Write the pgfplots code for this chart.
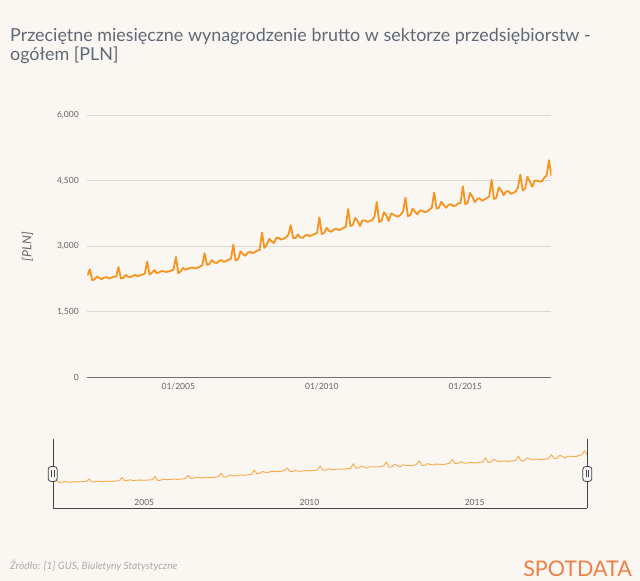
\documentclass[border=0pt]{standalone}
\usepackage{fontspec}
\setmainfont{Lato}
\usepackage{pgfplots}
\usepackage{pgfplotstable}
\pgfplotsset{compat=1.18}
\definecolor{bg}{HTML}{FAF6F1}
\definecolor{titlec}{HTML}{606A76}
\definecolor{linec}{HTML}{F7931E}
\definecolor{navline}{HTML}{FBA84A}
\definecolor{gridc}{HTML}{D9D7D3}
\definecolor{axisc}{HTML}{707070}
\definecolor{labc}{HTML}{666666}
\definecolor{srcc}{HTML}{ABABAB}
\definecolor{logoc}{HTML}{F07E46}
\definecolor{navaxis}{HTML}{444444}
\definecolor{handlefill}{HTML}{F4F4F4}

\pgfplotstableread{
year month value
2001 11 2320
2001 12 2470
2002 1 2220
2002 2 2240
2002 3 2300
2002 4 2270
2002 5 2240
2002 6 2280
2002 7 2290
2002 8 2260
2002 9 2280
2002 10 2300
2002 11 2300
2002 12 2520
2003 1 2260
2003 2 2270
2003 3 2340
2003 4 2300
2003 5 2290
2003 6 2320
2003 7 2340
2003 8 2310
2003 9 2330
2003 10 2350
2003 11 2370
2003 12 2650
2004 1 2350
2004 2 2390
2004 3 2450
2004 4 2380
2004 5 2400
2004 6 2430
2004 7 2420
2004 8 2410
2004 9 2420
2004 10 2440
2004 11 2460
2004 12 2750
2005 1 2380
2005 2 2420
2005 3 2500
2005 4 2460
2005 5 2480
2005 6 2500
2005 7 2510
2005 8 2490
2005 9 2500
2005 10 2530
2005 11 2560
2005 12 2840
2006 1 2570
2006 2 2590
2006 3 2680
2006 4 2630
2006 5 2610
2006 6 2660
2006 7 2680
2006 8 2640
2006 9 2660
2006 10 2690
2006 11 2710
2006 12 3030
2007 1 2670
2007 2 2700
2007 3 2880
2007 4 2820
2007 5 2780
2007 6 2850
2007 7 2870
2007 8 2840
2007 9 2860
2007 10 2900
2007 11 2910
2007 12 3310
2008 1 2960
2008 2 3030
2008 3 3170
2008 4 3110
2008 5 3070
2008 6 3190
2008 7 3190
2008 8 3150
2008 9 3170
2008 10 3200
2008 11 3260
2008 12 3480
2009 1 3190
2009 2 3180
2009 3 3270
2009 4 3200
2009 5 3190
2009 6 3240
2009 7 3260
2009 8 3230
2009 9 3250
2009 10 3280
2009 11 3300
2009 12 3660
2010 1 3280
2010 2 3300
2010 3 3420
2010 4 3350
2010 5 3330
2010 6 3380
2010 7 3400
2010 8 3370
2010 9 3380
2010 10 3420
2010 11 3440
2010 12 3850
2011 1 3460
2011 2 3490
2011 3 3650
2011 4 3570
2011 5 3460
2011 6 3590
2011 7 3590
2011 8 3560
2011 9 3570
2011 10 3600
2011 11 3670
2011 12 4010
2012 1 3550
2012 2 3580
2012 3 3780
2012 4 3700
2012 5 3580
2012 6 3750
2012 7 3720
2012 8 3690
2012 9 3680
2012 10 3720
2012 11 3800
2012 12 4110
2013 1 3690
2013 2 3710
2013 3 3860
2013 4 3790
2013 5 3730
2013 6 3820
2013 7 3810
2013 8 3780
2013 9 3790
2013 10 3840
2013 11 3880
2013 12 4230
2014 1 3860
2014 2 3880
2014 3 4020
2014 4 3940
2014 5 3880
2014 6 3950
2014 7 3960
2014 8 3920
2014 9 3930
2014 10 3980
2014 11 3990
2014 12 4370
2015 1 3960
2015 2 4000
2015 3 4220
2015 4 4130
2015 5 4010
2015 6 4080
2015 7 4100
2015 8 4040
2015 9 4070
2015 10 4100
2015 11 4140
2015 12 4520
2016 1 4080
2016 2 4110
2016 3 4350
2016 4 4280
2016 5 4170
2016 6 4250
2016 7 4260
2016 8 4200
2016 9 4220
2016 10 4250
2016 11 4340
2016 12 4640
2017 1 4280
2017 2 4320
2017 3 4590
2017 4 4480
2017 5 4360
2017 6 4500
2017 7 4500
2017 8 4480
2017 9 4480
2017 10 4570
2017 11 4620
2017 12 4970
2018 1 4600
}\wages

\begin{document}
\begin{tikzpicture}[x=1pt,y=1pt]
\path[use as bounding box, fill=bg] (0pt,0pt) rectangle (640pt,581pt);

% title
\node[anchor=north west, align=left, text=titlec, inner sep=0pt,
      font=\fontsize{17.9}{19.5}\selectfont] at (10pt,553pt)
  {Przeciętne miesięczne wynagrodzenie brutto w sektorze przedsiębiorstw -\\ogółem [PLN]};

% main chart
\begin{axis}[
  at={(87.4pt,204pt)}, anchor=south west,
  width=464pt, height=261.7pt, scale only axis,
  xmin=2001.8333, xmax=2018, ymin=0, ymax=6000,
  axis x line*=bottom, axis y line*=left,
  x axis line style={draw=axisc, line width=0.8pt},
  y axis line style={draw=none},
  ytick={0,1500,3000,4500,6000},
  ymajorgrids, grid style={gridc, line width=0.8pt},
  xtick={2005,2010,2015}, xticklabels={01/2005,01/2010,01/2015},
  major tick length=0pt,
  tick label style={font=\fontsize{8.5}{10}\selectfont, text=labc},
  yticklabel style={anchor=east, inner sep=0pt, xshift=-8.5pt},
  xticklabel style={anchor=north, inner sep=0pt, yshift=-6pt},
  /pgf/number format/1000 sep={,},
  /pgf/number format/assume math mode=true,
]
\addplot[linec, line width=1.8pt, line join=round]
  table[x expr=\thisrow{year}+(\thisrow{month}-1)/12, y=value] {\wages};
\end{axis}

\node[rotate=90, font=\itshape\fontsize{12.5}{14}\selectfont, text=labc] at (27.5pt,334.3pt) {[PLN]};

% navigator
\begin{axis}[
  at={(53.2pt,73pt)}, anchor=south west,
  width=534.1pt, height=69pt, scale only axis,
  xmin=2001.8333, xmax=2018, ymin=0, ymax=6000,
  axis x line*=bottom, axis y line*=left,
  x axis line style={draw=navaxis, line width=0.9pt},
  y axis line style={draw=navaxis, line width=0.9pt},
  ytick=\empty,
  xtick={2004.59,2009.59,2014.59}, xticklabels={2005,2010,2015},
  major tick length=0pt,
  tick label style={font=\fontsize{8.5}{10}\selectfont, text=labc},
  xticklabel style={anchor=base, inner sep=0pt, yshift=2pt},
  clip=false,
]
\addplot[navline, line width=0.9pt, line join=round]
  table[x expr=\thisrow{year}+(\thisrow{month}-1)/12, y=value] {\wages};
\draw[navaxis, line width=0.9pt] (rel axis cs:1,0) -- (rel axis cs:1,1);
\end{axis}

% navigator handles
\foreach \cx in {52.7,587.3}{
  \draw[navaxis, fill=handlefill, line width=0.8pt, rounded corners=3pt]
    (\cx pt-4.5pt,99.5pt) rectangle (\cx pt+4.5pt,114.5pt);
  \draw[navaxis, line width=0.7pt] (\cx pt-1.2pt,103.5pt) -- (\cx pt-1.2pt,110.5pt);
  \draw[navaxis, line width=0.7pt] (\cx pt+1.2pt,103.5pt) -- (\cx pt+1.2pt,110.5pt);
}

% footer
\node[anchor=west, inner sep=0pt, text=srcc, font=\itshape\fontsize{10.2}{12}\selectfont]
  at (10pt,15pt) {Źródło: [1] GUS, Biuletyny Statystyczne};
\node[anchor=base east, inner sep=0pt, text=logoc, font=\fontsize{21.5}{24}\selectfont]
  at (632pt,4pt) {SPOTDATA};
\end{tikzpicture}
\end{document}
